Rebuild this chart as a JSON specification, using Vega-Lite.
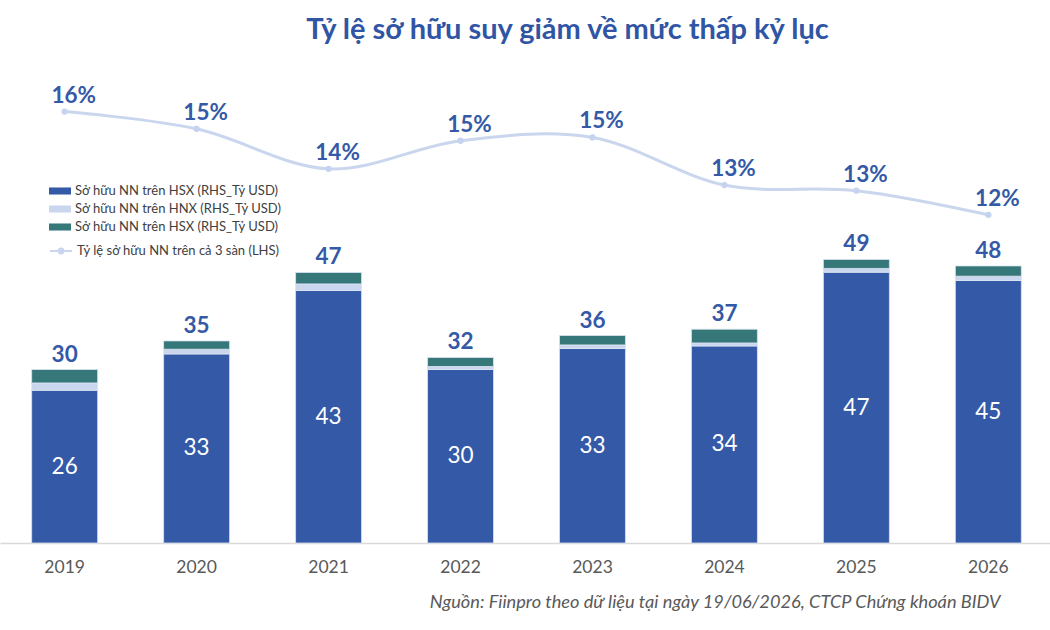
{
  "$schema": "https://vega.github.io/schema/vega-lite/v6.json",
  "width": 1053,
  "height": 483,
  "autosize": {"type": "none"},
  "padding": {"left": 0, "top": 60, "right": 0, "bottom": 87},
  "background": "white",
  "config": {"font": "Lato", "view": {"stroke": null}},
  "title": {
    "text": "Tỷ lệ sở hữu suy giảm về mức thấp kỷ lục",
    "font": "Lato",
    "fontSize": 29,
    "fontWeight": "bold",
    "color": "#2F55A4",
    "anchor": "middle",
    "dx": 41,
    "offset": -8,
    "baseline": "alphabetic"
  },
  "datasets": {
    "bars": [
      {"year": "2019", "series": "a", "value": 26.28},
      {"year": "2019", "series": "b", "value": 1.26},
      {"year": "2019", "series": "c", "value": 2.31},
      {"year": "2020", "series": "a", "value": 32.53},
      {"year": "2020", "series": "b", "value": 0.81},
      {"year": "2020", "series": "c", "value": 1.43},
      {"year": "2021", "series": "a", "value": 43.44},
      {"year": "2021", "series": "b", "value": 1.14},
      {"year": "2021", "series": "c", "value": 1.96},
      {"year": "2022", "series": "a", "value": 29.85},
      {"year": "2022", "series": "b", "value": 0.52},
      {"year": "2022", "series": "c", "value": 1.55},
      {"year": "2023", "series": "a", "value": 33.46},
      {"year": "2023", "series": "b", "value": 0.62},
      {"year": "2023", "series": "c", "value": 1.62},
      {"year": "2024", "series": "a", "value": 33.9},
      {"year": "2024", "series": "b", "value": 0.52},
      {"year": "2024", "series": "c", "value": 2.36},
      {"year": "2025", "series": "a", "value": 46.6},
      {"year": "2025", "series": "b", "value": 0.64},
      {"year": "2025", "series": "c", "value": 1.55},
      {"year": "2026", "series": "a", "value": 45.16},
      {"year": "2026", "series": "b", "value": 0.74},
      {"year": "2026", "series": "c", "value": 1.77}
    ],
    "line": [
      {"year": "2019", "pct": 0.1554},
      {"year": "2020", "pct": 0.1502},
      {"year": "2021", "pct": 0.1381},
      {"year": "2022", "pct": 0.1466},
      {"year": "2023", "pct": 0.1476},
      {"year": "2024", "pct": 0.1332},
      {"year": "2025", "pct": 0.1315},
      {"year": "2026", "pct": 0.1242}
    ]
  },
  "resolve": {"scale": {"y": "independent"}},
  "layer": [
    {
      "data": {"name": "bars"},
      "layer": [
        {
          "mark": {"type": "bar", "stroke": "#DCE4F3", "strokeWidth": 0.8},
          "encoding": {
            "x": {
              "field": "year",
              "type": "ordinal",
              "scale": {"paddingInner": 0.5, "paddingOuter": 0.24},
              "axis": {
                "title": "Nguồn: Fiinpro theo dữ liệu tại ngày 19/06/2026, CTCP Chứng khoán BIDV",
                "titleFont": "Lato",
                "titleFontStyle": "italic",
                "titleFontWeight": "normal",
                "titleFontSize": 18.2,
                "titleColor": "#595959",
                "titleAnchor": "end",
                "titleAlign": "right",
                "titleX": 1000,
                "titleY": 59,
                "titleBaseline": "middle",
                "labelAngle": 0,
                "labelFont": "Lato",
                "labelFontSize": 17.5,
                "labelColor": "#595959",
                "labelBaseline": "middle",
                "labelPadding": 24,
                "ticks": false,
                "tickSize": 0,
                "domainColor": "#D9D9D9",
                "domainWidth": 1.5,
                "grid": false
              }
            },
            "y": {
              "field": "value",
              "type": "quantitative",
              "stack": "zero",
              "scale": {"domain": [0, 83.1], "nice": false},
              "axis": null
            },
            "order": {"field": "series", "type": "nominal", "sort": "ascending"},
            "fill": {
              "field": "series",
              "type": "nominal",
              "scale": {"domain": ["a", "b", "c"], "range": ["#3459A6", "#C9D6EE", "#36777A"]},
              "legend": {
                "orient": "none",
                "legendX": 49,
                "legendY": 120,
                "title": null,
                "padding": 0,
                "labelExpr": "datum.value == 'b' ? 'Sở hữu NN trên HNX (RHS_Tỷ USD)' : 'Sở hữu NN trên HSX (RHS_Tỷ USD)'",
                "symbolType": "M-1,-0.32H1V0.32H-1Z",
                "symbolSize": 484,
                "symbolStrokeWidth": 0,
                "labelFont": "Lato",
                "labelFontSize": 13,
                "labelColor": "#404040",
                "labelOffset": 4,
                "labelLimit": 400,
                "rowPadding": -1.3
              }
            }
          }
        },
        {
          "mark": {"type": "text", "font": "Lato", "fontSize": 22.5, "fontWeight": "bold", "color": "#3459A6", "baseline": "middle", "dy": -15},
          "encoding": {
            "x": {"field": "year", "type": "ordinal"},
            "y": {"aggregate": "sum", "field": "value", "type": "quantitative"},
            "text": {"aggregate": "sum", "field": "value", "type": "quantitative", "format": ".0f"}
          }
        }
      ]
    },
    {
      "data": {"name": "bars"},
      "transform": [{"filter": "datum.series == 'a'"}],
      "mark": {"type": "text", "font": "Lato", "fontSize": 22.5, "color": "white", "baseline": "middle"},
      "encoding": {
        "x": {"field": "year", "type": "ordinal"},
        "y": {"field": "value", "type": "quantitative", "stack": null, "scale": {"domain": [0, 166.2], "nice": false}, "axis": null},
        "text": {"field": "value", "type": "quantitative", "format": ".0f"}
      }
    },
    {
      "data": {"name": "line"},
      "layer": [
        {
          "mark": {"type": "line", "interpolate": "cardinal", "strokeWidth": 3},
          "encoding": {
            "x": {"field": "year", "type": "ordinal"},
            "y": {"field": "pct", "type": "quantitative", "scale": {"domain": [0.025, 0.171], "nice": false, "zero": false}, "axis": null},
            "stroke": {
              "datum": "Tỷ lệ sở hữu NN trên cả 3 sàn (LHS)",
              "type": "nominal",
              "scale": {"range": ["#C9D6EE"]},
              "legend": {
                "orient": "none",
                "legendX": 49,
                "legendY": 179,
                "title": null,
                "padding": 0,
                "symbolType": "M-1,0H1M0.22,0A0.22,0.22,0,1,1,-0.22,0A0.22,0.22,0,1,1,0.22,0Z",
                "symbolSize": 484,
                "symbolStrokeWidth": 2,
                "symbolFillColor": "#C5D3EE",
                "symbolStrokeColor": "#C5D3EE",
                "labelFont": "Lato",
                "labelFontSize": 13,
                "labelColor": "#404040",
                "labelOffset": 4,
                "labelLimit": 400
              }
            }
          }
        },
        {
          "mark": {"type": "point", "filled": true, "size": 40, "color": "#C5D3EE", "opacity": 1},
          "encoding": {
            "x": {"field": "year", "type": "ordinal"},
            "y": {"field": "pct", "type": "quantitative"}
          }
        },
        {
          "mark": {"type": "text", "font": "Lato", "fontSize": 22.5, "fontWeight": "bold", "color": "#3459A6", "baseline": "middle", "dy": -16, "dx": 9},
          "encoding": {
            "x": {"field": "year", "type": "ordinal"},
            "y": {"field": "pct", "type": "quantitative"},
            "text": {"field": "pct", "type": "quantitative", "format": ".0%"}
          }
        }
      ]
    }
  ]
}
